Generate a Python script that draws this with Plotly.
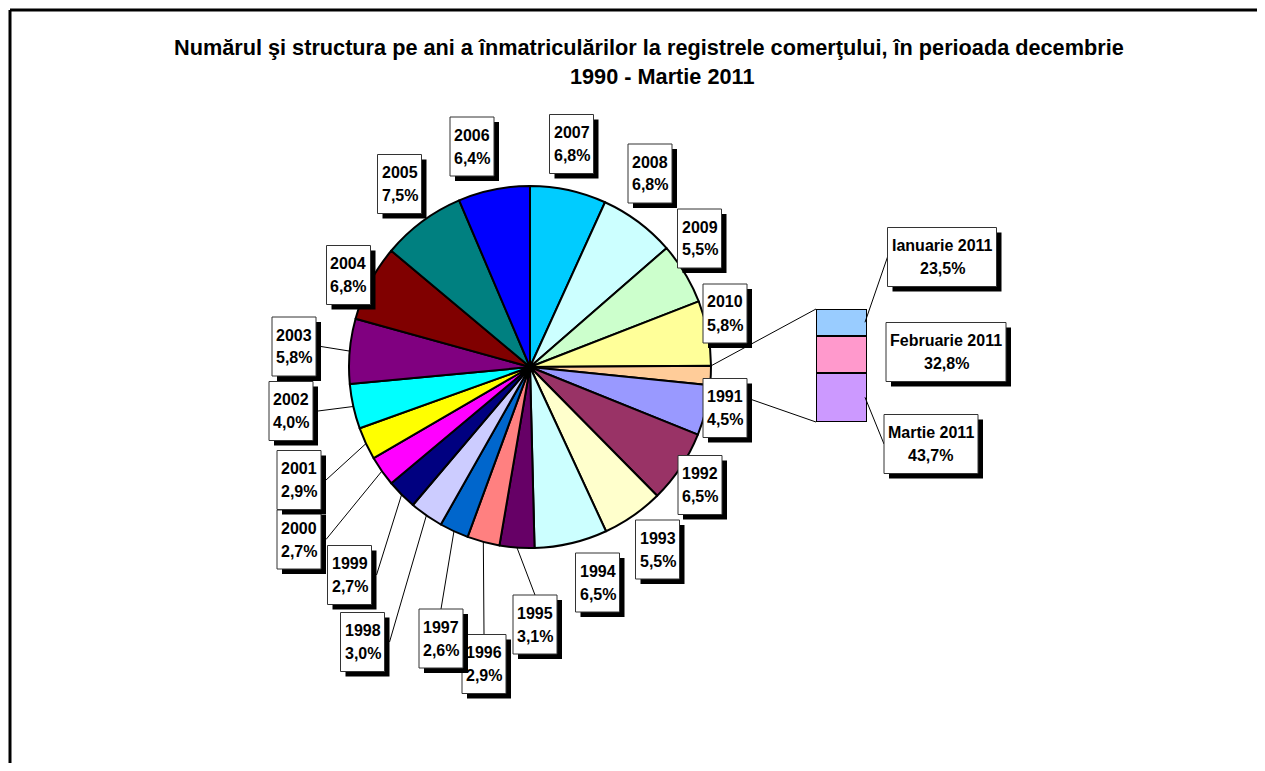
import math
import plotly.graph_objects as go

# ---------------- data ----------------
years = ["1991", "1992", "1993", "1994", "1995", "1996", "1997", "1998", "1999", "2000",
         "2001", "2002", "2003", "2004", "2005", "2006", "2007", "2008", "2009", "2010"]
year_share = [4.5, 6.5, 5.5, 6.5, 3.1, 2.9, 2.6, 3.0, 2.7, 2.7,
              2.9, 4.0, 5.8, 6.8, 7.5, 6.4, 6.8, 6.8, 5.5, 5.8]
other_label = "2011"
other_share = 1.7
months = ["Ianuarie 2011", "Februarie 2011", "Martie 2011"]
month_share = [23.5, 32.8, 43.7]

title_line1 = "Numărul şi structura pe ani a înmatriculărilor la registrele comerţului, în perioada decembrie"
title_line2 = "1990 - Martie 2011"

# ---------------- styles ----------------
year_colors = ["#9999FF", "#993366", "#FFFFCC", "#CCFFFF", "#660066", "#FF8080", "#0066CC",
               "#CCCCFF", "#000080", "#FF00FF", "#FFFF00", "#00FFFF", "#800080", "#800000",
               "#008080", "#0000FF", "#00CCFF", "#CCFFFF", "#CCFFCC", "#FFFF99"]
other_color = "#FFCC99"
month_colors = ["#99CCFF", "#FF99CC", "#CC99FF"]

OFF = 8  # page body margin
W, H = 1265 - 2 * OFF, 771 - 2 * OFF  # figure fits the window without scrollbars

def fx(px):
    return px - OFF

def fy(py):
    return py - OFF

def xp(x):  # figure px -> paper
    return x / W

def yp(y):
    return 1 - y / H

# pie geometry (page coords)
CX, CY, R = fx(530), fy(367), 181
# bar geometry (page coords)
BX0, BX1, BY0, BY1 = fx(816), fx(867), fy(309), fy(422)

# label box centres (page coords) and leader sides
label_pos = {
    "1991": (725, 408), "1992": (700, 485), "1993": (657.5, 549.5), "1994": (597.5, 582.5),
    "1995": (535, 624.5), "1996": (484, 664), "1997": (441, 638.5), "1998": (362.5, 642),
    "1999": (349.5, 575), "2000": (299, 539.5), "2001": (299, 480), "2002": (291, 411),
    "2003": (294, 346.5), "2004": (348.5, 275), "2005": (399.5, 184), "2006": (472, 146.5),
    "2007": (571.5, 144), "2008": (650, 173.5), "2009": (699.5, 238.5), "2010": (725, 313.5),
    "Ianuarie 2011": (942, 257), "Februarie 2011": (946, 352), "Martie 2011": (931, 444),
}
leader_side = {"2003": "R", "2002": "R", "2001": "R", "2000": "R", "1999": "R", "1998": "R",
               "1997": "T", "1996": "T", "1995": "T"}
month_leader = {"Ianuarie 2011": True, "Februarie 2011": False, "Martie 2011": True}
box_w = {"Ianuarie 2011": 109, "Februarie 2011": 120, "Martie 2011": 94}
YEAR_BOX_W, BOX_H, SHADOW = 44, 59, 5
FONT = "Liberation Sans, Arial, sans-serif"

def pct(v):
    return f"{v:.1f}".replace(".", ",") + "%"

# ---------------- pie order: start at 2007 at 12 o'clock ----------------
start = years.index("2007")
pie_labels = years[start:] + [other_label] + years[:start]
pie_values = year_share[start:] + [other_share] + year_share[:start]
pie_colors = year_colors[start:] + [other_color] + year_colors[:start]

fig = go.Figure()
fig.add_trace(go.Pie(
    labels=pie_labels, values=pie_values, sort=False, direction="clockwise", rotation=0,
    marker=dict(colors=pie_colors, line=dict(color="black", width=2)),
    textinfo="none", hoverinfo="label+percent", showlegend=False,
    domain=dict(x=[xp(CX - R), xp(CX + R)], y=[yp(CY + R), yp(CY - R)]),
))

# stacked bar (bottom -> top: Martie, Februarie, Ianuarie)
for name, val, col in reversed(list(zip(months, month_share, month_colors))):
    fig.add_trace(go.Bar(
        x=[0], y=[val], name=name, width=1, xaxis="x2", yaxis="y2",
        marker=dict(color=col, line=dict(color="black", width=2)), showlegend=False,
    ))

# ---------------- geometry helpers ----------------
total = sum(pie_values)
mid_angle = {}
edge_angle = {}
acc = 0.0
for lab, v in zip(pie_labels, pie_values):
    a0 = acc / total * 360
    acc += v
    a1 = acc / total * 360
    mid_angle[lab] = (a0 + a1) / 2
    edge_angle[lab] = (a0, a1)

def on_pie(ang):
    t = math.radians(ang)
    return CX + R * math.sin(t), CY - R * math.cos(t)

shapes = []
annotations = []

def line(x0, y0, x1, y1, w=1):
    shapes.append(dict(type="line", xref="paper", yref="paper",
                       x0=xp(x0), y0=yp(y0), x1=xp(x1), y1=yp(y1),
                       line=dict(color="black", width=w)))

# frame: only the top and left edges fall inside the visible window
line(2, 2, W + 60, 2, w=3)
line(2, 2, 2, H + 60, w=3)

# connectors from the "2011" slice to the bar
a0, a1 = edge_angle[other_label]
p0 = on_pie(a0)
p1 = on_pie(a1)
line(p0[0], p0[1], BX0, BY0)
line(p1[0], p1[1], BX0, BY1)

# leader lines for years
for lab, side in leader_side.items():
    cx, cy = fx(label_pos[lab][0]), fy(label_pos[lab][1])
    if side == "R":
        ax, ay = cx + YEAR_BOX_W / 2 + SHADOW, cy
    else:
        ax, ay = cx, cy - BOX_H / 2
    ex, ey = on_pie(mid_angle[lab])
    line(ax, ay, ex, ey)

# leader lines for months (to the bar segments)
acc = 0.0
seg_mid = {}
for name, val in reversed(list(zip(months, month_share))):
    lo = acc
    acc += val
    seg_mid[name] = BY1 - (lo + acc) / 2 / sum(month_share) * (BY1 - BY0)
for name in months:
    if month_leader[name]:
        cx, cy = fx(label_pos[name][0]), fy(label_pos[name][1])
        line(cx - box_w[name] / 2, cy, BX1 - 2, seg_mid[name])

# label boxes
def add_box(key, l1, l2, bw):
    cx, cy = fx(label_pos[key][0]), fy(label_pos[key][1])
    x0, x1 = cx - bw / 2, cx + bw / 2
    y0, y1 = cy - BOX_H / 2, cy + BOX_H / 2
    shapes.append(dict(type="rect", xref="paper", yref="paper",
                       x0=xp(x0 + SHADOW), x1=xp(x1 + SHADOW), y0=yp(y0 + SHADOW), y1=yp(y1 + SHADOW),
                       fillcolor="black", line=dict(width=0)))
    shapes.append(dict(type="rect", xref="paper", yref="paper",
                       x0=xp(x0), x1=xp(x1), y0=yp(y0), y1=yp(y1),
                       fillcolor="white", line=dict(color="#333333", width=1)))
    for txt, dy in ((l1, -11.5), (l2, 11.5)):
        annotations.append(dict(text=txt, xref="paper", yref="paper", x=xp(cx), y=yp(cy + dy),
                                xanchor="center", yanchor="middle", showarrow=False,
                                font=dict(family=FONT, size=16, color="black", weight="bold")))

for lab, v in zip(years, year_share):
    add_box(lab, lab, pct(v), YEAR_BOX_W)
for name, v in zip(months, month_share):
    add_box(name, name, pct(v), box_w[name])

# title
annotations.append(dict(text=title_line1, xref="paper", yref="paper", x=xp(fx(649)), y=yp(fy(47)),
                        xanchor="center", yanchor="middle", showarrow=False,
                        font=dict(family=FONT, size=21.7, color="black", weight="bold")))
annotations.append(dict(text=title_line2, xref="paper", yref="paper", x=xp(fx(662)), y=yp(fy(77)),
                        xanchor="center", yanchor="middle", showarrow=False,
                        font=dict(family=FONT, size=21.7, color="black", weight="bold")))

fig.update_layout(
    width=W, height=H, margin=dict(l=0, r=0, t=0, b=0),
    paper_bgcolor="white", plot_bgcolor="white", barmode="stack",
    xaxis2=dict(domain=[xp(BX0), xp(BX1)], range=[-0.5, 0.5], visible=False, anchor="y2", fixedrange=True),
    yaxis2=dict(domain=[yp(BY1), yp(BY0)], range=[0, 100], visible=False, anchor="x2", fixedrange=True),
    shapes=shapes, annotations=annotations,
)

fig.write_html("out.html")
